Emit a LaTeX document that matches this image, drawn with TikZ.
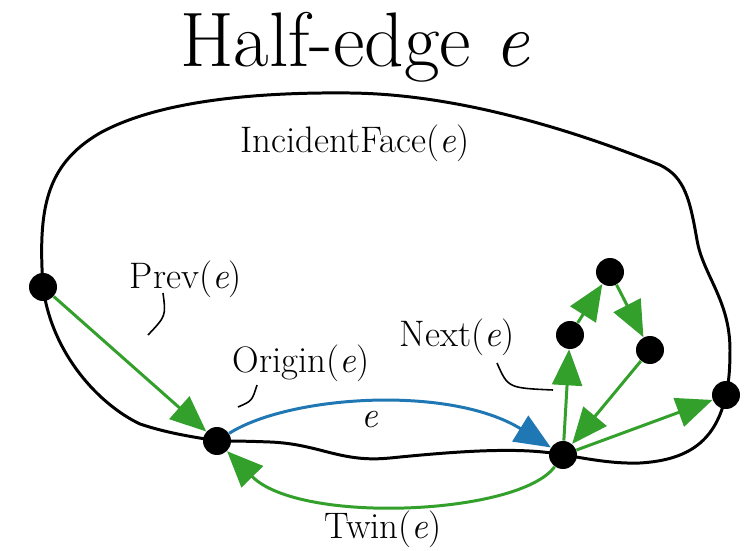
\documentclass[tikz,border=0pt]{standalone}
\usepackage{tikz}
\usetikzlibrary{arrows.meta,positioning}
\definecolor{EdgeGreen}{HTML}{33A02C}
\definecolor{EdgeBlue}{HTML}{1F78B4}

\begin{document}
\begin{tikzpicture}[x=0.02cm,y=-0.02cm,
  vtx/.style={circle,fill=black,inner sep=0pt,minimum size=0.56cm},
  lbl/.style={font=\fontsize{21}{25}\selectfont,anchor=base,inner sep=0pt},
  headline/.style={font=\fontsize{44}{50}\selectfont,anchor=base,inner sep=0pt},
  boundary/.style={black,line width=1.7pt},
  leader/.style={black,line width=0.9pt},
  nxt/.style={EdgeGreen,line width=1.7pt,-{Triangle[length=0.72cm,width=0.6cm]}},
  half/.style={EdgeBlue,line width=1.7pt,-{Triangle[length=0.72cm,width=0.6cm]}}]
\useasboundingbox (0,0) rectangle (752,551);
% face boundary
\draw[boundary] (43,287) .. controls (38,210) and (45,165) .. (100,133)
  .. controls (160,100) and (260,92) .. (350,93)
  .. controls (450,94) and (560,125) .. (660,165)
  .. controls (685,177) and (690,200) .. (697,240)
  .. controls (703,275) and (730,300) .. (730,350)
  .. controls (730,375) and (728,385) .. (726,395)
  .. controls (716,440) and (690,460) .. (640,463)
  .. controls (610,464) and (585,458) .. (563,455)
  .. controls (520,446) and (450,452) .. (390,458)
  .. controls (340,463) and (320,444) .. (270,442)
  .. controls (245,441) and (230,441) .. (217,441)
  .. controls (195,437) and (170,434) .. (140,424)
  .. controls (100,405) and (52,355) .. cycle;
% vertices
\node[vtx] (a) at (43,287) {};
\node[vtx] (o) at (217,441) {};
\node[vtx] (d) at (563,455) {};
\node[vtx] (r) at (726,395) {};
\node[vtx] (n1) at (570,335) {};
\node[vtx] (n2) at (610,272) {};
\node[vtx] (n3) at (650,350) {};
% labels
\node[headline] (ttl) at (355,67) {Half-edge \textit{e}};
\node[lbl] (facelbl) at (355,153) {IncidentFace(\textit{e})};
\node[lbl] (prevlbl) at (186,288) {Prev(\textit{e})};
\node[lbl] (originlbl) at (301,372) {Origin(\textit{e})};
\node[lbl] (nextlbl) at (457,346) {Next(\textit{e})};
\node[lbl] (elbl) at (370,427) {\textit{e}};
\node[lbl] (twinlbl) at (383,538) {Twin(\textit{e})};
% edges
\draw[nxt] (a) -- (o);
\draw[half] (o) .. controls (290,395) and (450,385) .. (d);
\draw[nxt] (d) .. controls (520,515) and (300,525) .. (o);
\draw[nxt] (d) -- (n1);
\draw[nxt] (n1) -- (n2);
\draw[nxt] (n2) -- (n3);
\draw[nxt] (n3) -- (d);
\draw[nxt] (d) -- (r);
% leaders
\coordinate (prevend) at (148,335);
\coordinate (originend) at (238,407);
\coordinate (nextend) at (553,390);
\draw[leader] (163,293) .. controls (166,316) .. (prevend);
\draw[leader] (257,385) .. controls (252,401) .. (originend);
\draw[leader] (497,363) .. controls (508,388) .. (nextend);
\end{tikzpicture}
\end{document}
